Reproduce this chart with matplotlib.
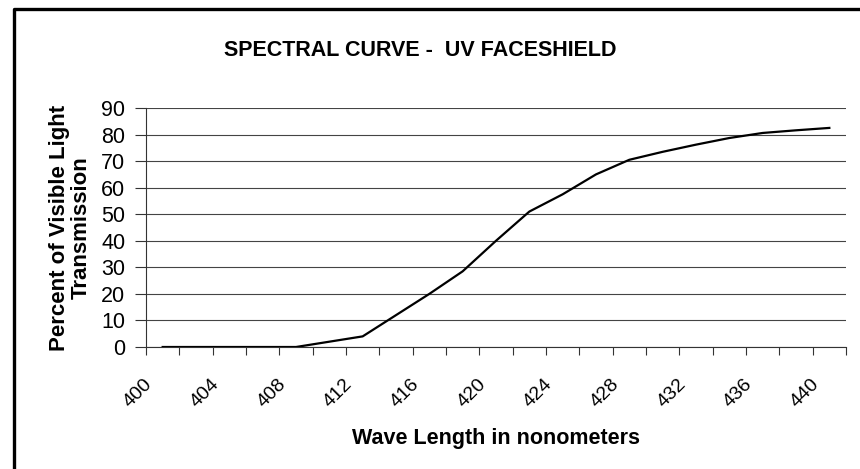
import matplotlib
matplotlib.use("Agg")
import matplotlib.pyplot as plt
from matplotlib.lines import Line2D
from matplotlib.transforms import ScaledTranslation

plt.rcParams["font.family"] = ["Liberation Sans", "DejaVu Sans"]

# wavelength categories (nm) and transmission (%)
wavelengths = list(range(400, 441, 2))
transmission = [0, 0, 0, 0, 0, 2, 4, 12, 20, 28.5, 40, 51, 57.5, 65,
                70.5, 73.5, 76.2, 78.7, 80.6, 81.6, 82.5]
y_ticks = list(range(0, 91, 10))

W, H = 860, 469
fig = plt.figure(figsize=(W / 100, H / 100), dpi=100)
ax = fig.add_axes([146 / W, 1 - 347 / H, 700 / W, 239 / H])

pos = list(range(len(wavelengths)))
ax.plot(pos, transmission, color="black", lw=1.6, zorder=3)

ax.set_xlim(-0.5, len(wavelengths) - 0.5)
ax.set_ylim(0, 90)

# category boundaries get the tick marks, every second category a label
ax.set_xticks([p - 0.5 for p in range(len(wavelengths) + 1)])
ax.set_xticklabels([])
ax.set_xticks(pos[::2], minor=True)
ax.set_xticklabels([str(w) for w in wavelengths[::2]], minor=True,
                   rotation=45, ha="right", va="center",
                   rotation_mode="anchor", fontsize=14)
ax.tick_params(axis="x", which="major", direction="out", length=6,
               width=0.8, color="#333333")
ax.tick_params(axis="x", which="minor", length=0, pad=25)
shift = ScaledTranslation(-13 / 100, 0, fig.dpi_scale_trans)
for lbl in ax.get_xticklabels(minor=True):
    lbl.set_transform(lbl.get_transform() + shift)

ax.set_yticks(y_ticks)
ax.set_yticklabels([str(v) for v in y_ticks], fontsize=15.5)
ax.tick_params(axis="y", direction="out", length=8, width=0.8,
               color="#333333", pad=7)
ax.grid(axis="y", color="#444444", lw=0.8)
ax.set_axisbelow(True)

for side in ("top", "right"):
    ax.spines[side].set_visible(False)
for side in ("left", "bottom"):
    ax.spines[side].set_color("#333333")
    ax.spines[side].set_linewidth(0.8)

ax.set_xlabel("Wave Length in nonometers", fontsize=15.5, fontweight="bold",
              labelpad=12)
ax.set_ylabel("Percent of Visible Light\nTransmission", fontsize=16,
              fontweight="bold", labelpad=7, linespacing=1.05)
fig.text(420 / W, 1 - 50 / H, "SPECTRAL CURVE -  UV FACESHIELD",
         ha="center", va="center", fontsize=15.5, fontweight="bold")

# scanned frame: left and top edges only
fig.add_artist(Line2D([14 / W, 14 / W, 1.0], [0.0, 1 - 9 / H, 1 - 9 / H],
                      transform=fig.transFigure, color="black", lw=2.4))

fig.savefig("out.png", dpi=100)
